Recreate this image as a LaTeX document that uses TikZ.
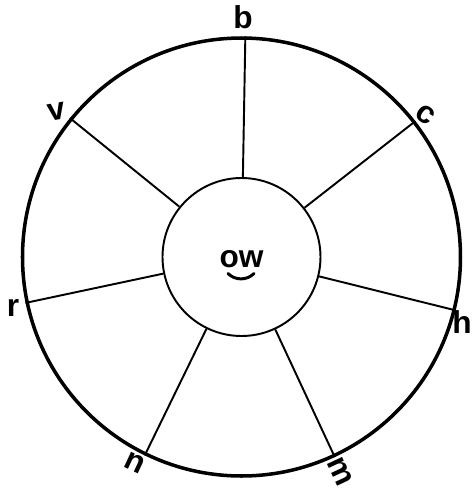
\documentclass[tikz,border=0pt]{standalone}
\usepackage{fontspec}
\setmainfont{Liberation Sans}
\usepackage{tikz}
\usetikzlibrary{positioning}

\begin{document}
\begin{tikzpicture}[
  rim/.style={circle, draw, line width=2pt, minimum size=8.76cm, inner sep=0pt},
  hub/.style={circle, draw, line width=1.1pt, minimum size=3.16cm, inner sep=0pt},
  spoke/.style={line width=1.1pt},
  letter/.style={inner sep=0pt, font=\fontsize{18}{18}\selectfont\bfseries},
  tie/.style={line width=1.7pt, line cap=round}
]
\useasboundingbox (-4.83,-4.66) rectangle (4.63,5.14);

% --------- WHEEL ----------
\node[rim] (wheel) at (0,0) {};
\node[hub] (hub) at (0,0) {};

% centre sound
\node[letter] (ow) at (0,-0.04) {ow};
\draw[tie] ([xshift=-0.27cm,yshift=-0.29cm]ow.center) to[bend right=45] ([xshift=0.25cm,yshift=-0.29cm]ow.center);

% spokes
\draw[spoke] (hub.89) -- (wheel.89);
\draw[spoke] (hub.38) -- (wheel.38);
\draw[spoke] (hub.141.5) -- (wheel.141.5);
\draw[spoke] (hub.192) -- (wheel.192);
\draw[spoke] (hub.-14) -- (wheel.-14);
\draw[spoke] (hub.244) -- (wheel.244);
\draw[spoke] (hub.-65) -- (wheel.-65);

% --------- LETTERS ----------
\node[letter] (b) at (0.03,4.8) {b};
\node[letter, rotate=-35] (c) at (3.69,2.84) {c};
\node[letter, rotate=10] (v) at (-3.69,2.9) {v};
\node[letter] (r) at (-4.57,-1.02) {r};
\node[letter] (h) at (4.41,-1.3) {h};
\node[letter, rotate=-25] (n) at (-2.13,-4.12) {n};
\node[letter, rotate=-65] (m) at (1.97,-4.3) {m};

\end{tikzpicture}
\end{document}
